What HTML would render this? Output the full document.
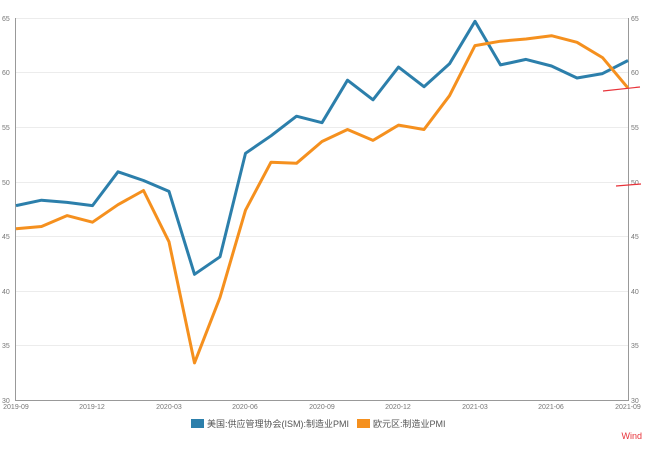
<!DOCTYPE html><html><head><meta charset="utf-8"><style>body{margin:0;background:#fff}svg{display:block}text{font-family:"Liberation Sans","Noto Sans CJK SC",sans-serif}</style></head><body>
<svg width="654" height="451" xmlns="http://www.w3.org/2000/svg">
<g stroke="#ececec" stroke-width="1">
<line x1="16" x2="628" y1="18.5" y2="18.5"/><line x1="16" x2="628" y1="72.5" y2="72.5"/><line x1="16" x2="628" y1="127.5" y2="127.5"/><line x1="16" x2="628" y1="182.5" y2="182.5"/><line x1="16" x2="628" y1="236.5" y2="236.5"/><line x1="16" x2="628" y1="291.5" y2="291.5"/><line x1="16" x2="628" y1="345.5" y2="345.5"/></g>
<g stroke="#999" stroke-width="1" fill="none"><line x1="15.5" y1="18" x2="15.5" y2="400"/><line x1="628.5" y1="18" x2="628.5" y2="400"/><line x1="15" y1="400.5" x2="629" y2="400.5"/></g>
<g font-size="7" fill="#777">
<text x="2" y="21">65</text><text x="2" y="75">60</text><text x="2" y="130">55</text><text x="2" y="185">50</text><text x="2" y="239">45</text><text x="2" y="294">40</text><text x="2" y="348">35</text><text x="2" y="403">30</text>
<text x="631" y="21">65</text><text x="631" y="75">60</text><text x="631" y="130">55</text><text x="631" y="185">50</text><text x="631" y="239">45</text><text x="631" y="294">40</text><text x="631" y="348">35</text><text x="631" y="403">30</text>
<g text-anchor="middle"><text x="16" y="409">2019-09</text><text x="92" y="409">2019-12</text><text x="169" y="409">2020-03</text><text x="245" y="409">2020-06</text><text x="322" y="409">2020-09</text><text x="398" y="409">2020-12</text><text x="475" y="409">2021-03</text><text x="551" y="409">2021-06</text><text x="628" y="409">2021-09</text></g></g>
<polyline fill="none" stroke="#2c7fab" stroke-width="3" stroke-linejoin="round" points="16,205.6 41.5,200.2 67,202.4 92.5,205.6 118,171.8 143.5,180.5 169,191.4 194.5,274.3 220,256.8 245.5,153.3 271,135.8 296.5,116.2 322,122.7 347.5,80.2 373,99.8 398.5,67.1 424,86.7 449.5,63.8 475,21.3 500.5,64.9 526,59.4 551.5,66 577,78 602.5,73.6 628,60.5"/>
<polyline fill="none" stroke="#f5901e" stroke-width="3" stroke-linejoin="round" points="16,228.7 41.5,226.5 67,215.6 92.5,222.2 118,204.7 143.5,190.5 169,241.8 194.5,362.9 220,297.4 245.5,210.2 271,162.2 296.5,163.3 322,141.5 347.5,129.5 373,140.4 398.5,125.1 424,129.5 449.5,95.7 475,45.6 500.5,41.2 526,39 551.5,35.7 577,42.3 602.5,57.6 628,88.1"/>
<path d="M603 91 L640 87" stroke="#e8333a" stroke-width="1.2" fill="none"/>
<path d="M616 186 L641 184" stroke="#e8333a" stroke-width="1.2" fill="none"/>
<rect x="191" y="419" width="13" height="9" fill="#2c7fab"/>
<text x="207" y="427" font-size="9" fill="#555">美国:供应管理协会(ISM):制造业PMI</text>
<rect x="357" y="419" width="13" height="9" fill="#f5901e"/>
<text x="373" y="427" font-size="9" fill="#555">欧元区:制造业PMI</text>
<text x="642" y="439" font-size="9" fill="#e8333a" text-anchor="end">Wind</text>
</svg></body></html>
